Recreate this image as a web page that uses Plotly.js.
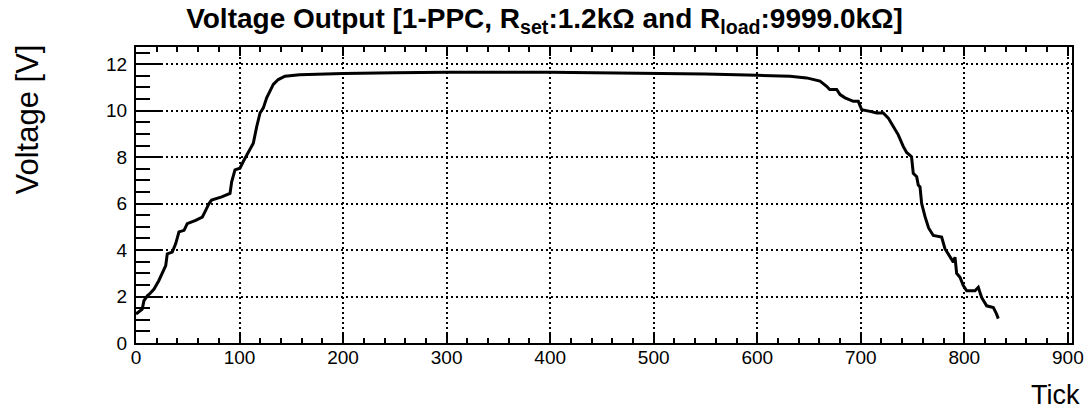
<!DOCTYPE html>
<html>
<head>
<meta charset="utf-8">
<script src="https://cdn.plot.ly/plotly-3.0.1.min.js"></script>
<style>html,body{margin:0;padding:0;background:#fff;}#chart{width:1089px;height:412px;}</style>
</head>
<body>
<div id="chart"></div>
<script>
// Data
const tick = [0, 3, 6, 7.7, 11, 14, 17.4, 22, 25.4, 28.7, 30.2, 35, 38.3, 41.5, 46.4, 49.5, 57.6, 64, 67.3, 70.5, 73, 82.8, 90.8, 92.4, 95.6, 100.4, 103.6, 108.5, 113.3, 116.6, 119.8, 123, 126.2, 129.4, 132.6, 137.4, 143.9, 158, 175, 200, 250, 300, 400, 500, 550, 600, 631.6, 647.7, 660.6, 667, 670, 676.7, 680, 684.8, 692.8, 697.6, 699.2, 700.9, 708.9, 715.3, 721.7, 726.6, 731.4, 736.2, 741, 744.3, 749, 750.7, 754, 755.5, 757.2, 758.8, 762, 765.5, 770, 778.1, 781.3, 786.2, 789.4, 791, 792.6, 795.8, 799, 802.3, 810.3, 813.5, 816.7, 821.6, 828, 831.2, 832.8];
const voltage = [1.25, 1.35, 1.46, 1.82, 2.03, 2.15, 2.32, 2.68, 3.04, 3.33, 3.84, 3.91, 4.27, 4.78, 4.85, 5.14, 5.28, 5.42, 5.71, 6.0, 6.15, 6.29, 6.44, 6.94, 7.45, 7.52, 7.81, 8.24, 8.6, 9.32, 9.9, 10.12, 10.55, 10.84, 11.13, 11.34, 11.48, 11.55, 11.58, 11.6, 11.63, 11.65, 11.65, 11.62, 11.58, 11.52, 11.48, 11.41, 11.27, 11.05, 10.91, 10.91, 10.69, 10.55, 10.4, 10.4, 10.19, 10.04, 9.97, 9.9, 9.9, 9.68, 9.32, 8.96, 8.46, 8.2, 8.02, 7.3, 7.16, 6.8, 6.72, 6.0, 5.45, 4.95, 4.63, 4.56, 4.06, 3.69, 3.48, 3.69, 3.0, 2.83, 2.47, 2.25, 2.25, 2.4, 1.96, 1.6, 1.53, 1.24, 1.05];
const titleText = 'Voltage Output [1-PPC, R<sub>set</sub>:1.2kΩ and R<sub>load</sub>:9999.0kΩ]';
const xTitle = 'Tick';
const yTitle = 'Voltage [V]';

const FONT = 'Liberation Sans, Arial, sans-serif';
const TC = '#000';
const trace = {
  x: tick, y: voltage, type: 'scatter', mode: 'lines',
  line: {color: '#000', width: 3}, hoverinfo: 'skip', showlegend: false
};
const commonAxis = {
  ticks: 'inside', tickcolor: TC, tickwidth: 2,
  showline: true, linecolor: '#000', linewidth: 2,
  showgrid: true, gridcolor: '#000', gridwidth: 2, griddash: '2px,3px',
  zeroline: false, tickfont: {family: FONT, size: 19, color: '#000'}
};
const layout = {
  width: 1089, height: 412,
  margin: {l: 136, r: 17, t: 47, b: 69},
  paper_bgcolor: '#fff', plot_bgcolor: '#fff',
  title: {text: '<b>' + titleText + '</b>', font: {family: FONT, size: 28, color: '#000'},
          x: 0.5, xanchor: 'center', xref: 'container', y: 0.955, yanchor: 'middle', yref: 'container'},
  xaxis: Object.assign({}, commonAxis, {
    range: [0, 904], tick0: 0, dtick: 100, ticklen: 9, mirror: 'allticks', ticklabelstandoff: -4,
    minor: {dtick: 20, ticks: 'inside', ticklen: 5, tickwidth: 2, tickcolor: TC, showgrid: false}
  }),
  yaxis: Object.assign({}, commonAxis, {
    range: [0, 12.74], tick0: 0, dtick: 2, ticklen: 27, mirror: true, ticklabelstandoff: 3,
    minor: {dtick: 0.5, ticks: 'inside', ticklen: 14, tickwidth: 2, tickcolor: TC, showgrid: false}
  }),
  yaxis2: {
    overlaying: 'y', side: 'right', range: [0, 12.74], tick0: 0, dtick: 2,
    ticks: 'inside', ticklen: 16, tickwidth: 2, tickcolor: TC,
    showticklabels: false, showgrid: false, showline: false, zeroline: false,
    minor: {dtick: 0.5, ticks: 'inside', ticklen: 8, tickwidth: 2, tickcolor: TC, showgrid: false}
  },
  annotations: [
    {text: xTitle, xref: 'paper', yref: 'paper', x: 1.0107, y: -0.176, xanchor: 'right', yanchor: 'middle',
     showarrow: false, font: {family: FONT, size: 27, color: '#000'}},
    {text: yTitle, xref: 'paper', yref: 'paper', x: -0.1154, y: 0.755, xanchor: 'center', yanchor: 'middle',
     textangle: -90, showarrow: false, font: {family: FONT, size: 31, color: '#000'}}
  ]
};
Plotly.newPlot('chart', [trace], layout, {staticPlot: true, displayModeBar: false});
</script>
</body>
</html>
